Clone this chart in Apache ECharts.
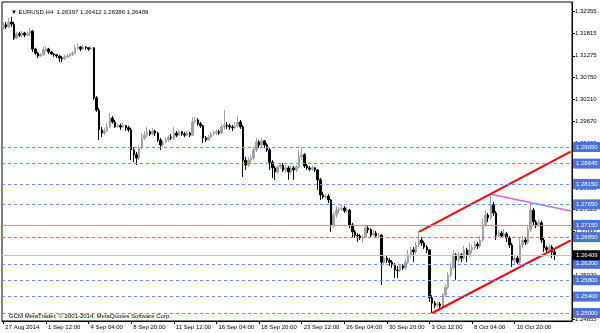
<!DOCTYPE html>
<html><head><meta charset="utf-8">
<script src="https://cdn.jsdelivr.net/npm/echarts@6/dist/echarts.min.js"></script>
<style>html,body{margin:0;padding:0;background:#fff}#c{width:600px;height:333px}</style>
</head><body><div id="c"></div>
<script>
const symbolName = 'EURUSD,H4';
const xTickLabels = ['27 Aug 2014','1 Sep 12:00','4 Sep 04:00','8 Sep 20:00','11 Sep 12:00','16 Sep 04:00','18 Sep 20:00','23 Sep 12:00','26 Sep 04:00','30 Sep 20:00','3 Oct 12:00','8 Oct 04:00','10 Oct 20:00'];
const barsPerLabel = 16;
const slotCount = 214;
// [open, close, low, high]
const ohlc = [
[1.3195,1.3203,1.3191,1.3208],[1.3203,1.3198,1.3193,1.3210],[1.3198,1.3210,1.3195,1.3220],[1.3210,1.3205,1.3198,1.3222],
[1.3205,1.3171,1.3166,1.3210],[1.3171,1.3181,1.3169,1.3186],[1.3181,1.3178,1.3173,1.3186],[1.3178,1.3183,1.3173,1.3188],
[1.3183,1.3178,1.3173,1.3186],[1.3178,1.3181,1.3176,1.3186],[1.3181,1.3188,1.3176,1.3195],[1.3188,1.3144,1.3137,1.3191],
[1.3144,1.3134,1.3130,1.3147],[1.3134,1.3127,1.3122,1.3137],[1.3127,1.3130,1.3125,1.3134],[1.3130,1.3142,1.3127,1.3149],
[1.3142,1.3144,1.3137,1.3151],[1.3144,1.3137,1.3132,1.3147],[1.3137,1.3132,1.3130,1.3139],[1.3132,1.3130,1.3125,1.3134],
[1.3130,1.3127,1.3122,1.3132],[1.3127,1.3122,1.3112,1.3130],[1.3122,1.3120,1.3112,1.3127],[1.3120,1.3125,1.3117,1.3130],
[1.3125,1.3127,1.3122,1.3132],[1.3127,1.3130,1.3125,1.3134],[1.3130,1.3134,1.3127,1.3139],[1.3134,1.3147,1.3132,1.3154],
[1.3147,1.3149,1.3142,1.3159],[1.3149,1.3144,1.3139,1.3151],[1.3144,1.3149,1.3142,1.3154],[1.3149,1.3147,1.3142,1.3151],
[1.3147,1.3144,1.3139,1.3149],[1.3144,1.3147,1.3142,1.3151],[1.3147,1.3025,1.3020,1.3149],[1.3025,1.2995,1.2991,1.3029],
[1.2995,1.2947,1.2922,1.3000],[1.2947,1.2939,1.2929,1.2954],[1.2939,1.2944,1.2934,1.2952],[1.2944,1.2954,1.2942,1.2962],
[1.2954,1.2976,1.2952,1.2988],[1.2976,1.2966,1.2962,1.2981],[1.2966,1.2954,1.2952,1.2971],[1.2954,1.2957,1.2952,1.2962],
[1.2957,1.2954,1.2947,1.2962],[1.2954,1.2957,1.2952,1.2964],[1.2957,1.2952,1.2944,1.2959],[1.2952,1.2947,1.2942,1.2957],
[1.2947,1.2898,1.2873,1.2952],[1.2898,1.2886,1.2868,1.2905],[1.2886,1.2878,1.2861,1.2893],[1.2878,1.2903,1.2873,1.2910],
[1.2903,1.2927,1.2898,1.2939],[1.2927,1.2934,1.2922,1.2944],[1.2934,1.2942,1.2929,1.2954],[1.2942,1.2937,1.2932,1.2947],
[1.2937,1.2944,1.2934,1.2952],[1.2944,1.2939,1.2932,1.2947],[1.2939,1.2922,1.2917,1.2942],[1.2922,1.2910,1.2898,1.2927],
[1.2910,1.2917,1.2905,1.2922],[1.2917,1.2922,1.2915,1.2929],[1.2922,1.2929,1.2917,1.2934],[1.2929,1.2927,1.2922,1.2937],
[1.2927,1.2939,1.2922,1.2954],[1.2939,1.2934,1.2929,1.2944],[1.2934,1.2942,1.2932,1.2947],[1.2942,1.2937,1.2932,1.2944],
[1.2937,1.2934,1.2929,1.2942],[1.2934,1.2939,1.2932,1.2944],[1.2939,1.2934,1.2929,1.2942],[1.2934,1.2966,1.2932,1.2978],
[1.2966,1.2971,1.2962,1.2978],[1.2971,1.2962,1.2957,1.2976],[1.2962,1.2957,1.2952,1.2966],[1.2957,1.2927,1.2915,1.2959],
[1.2927,1.2922,1.2917,1.2932],[1.2922,1.2929,1.2920,1.2934],[1.2929,1.2937,1.2927,1.2942],[1.2937,1.2939,1.2932,1.2944],
[1.2939,1.2942,1.2934,1.2947],[1.2942,1.2939,1.2934,1.2947],[1.2939,1.2954,1.2937,1.2962],[1.2954,1.2959,1.2947,1.2995],
[1.2959,1.2957,1.2949,1.2966],[1.2957,1.2954,1.2947,1.2962],[1.2954,1.2952,1.2944,1.2959],[1.2952,1.2957,1.2949,1.2966],
[1.2957,1.2966,1.2952,1.2981],[1.2966,1.2954,1.2949,1.2971],[1.2954,1.2873,1.2832,1.2959],[1.2873,1.2861,1.2849,1.2881],
[1.2861,1.2873,1.2856,1.2881],[1.2873,1.2878,1.2866,1.2886],[1.2878,1.2898,1.2873,1.2905],[1.2898,1.2917,1.2893,1.2927],
[1.2917,1.2910,1.2903,1.2922],[1.2910,1.2920,1.2905,1.2927],[1.2920,1.2910,1.2903,1.2922],[1.2910,1.2898,1.2893,1.2915],
[1.2898,1.2868,1.2849,1.2903],[1.2868,1.2854,1.2829,1.2873],[1.2854,1.2844,1.2825,1.2859],[1.2844,1.2856,1.2839,1.2861],
[1.2856,1.2861,1.2851,1.2866],[1.2861,1.2849,1.2844,1.2866],[1.2849,1.2854,1.2842,1.2861],[1.2854,1.2844,1.2825,1.2859],
[1.2844,1.2854,1.2837,1.2859],[1.2854,1.2849,1.2825,1.2859],[1.2849,1.2856,1.2844,1.2861],[1.2856,1.2881,1.2854,1.2898],
[1.2881,1.2886,1.2873,1.2903],[1.2886,1.2859,1.2854,1.2890],[1.2859,1.2854,1.2849,1.2864],[1.2854,1.2851,1.2847,1.2859],
[1.2851,1.2854,1.2847,1.2859],[1.2854,1.2849,1.2844,1.2856],[1.2849,1.2825,1.2800,1.2851],[1.2825,1.2788,1.2776,1.2829],
[1.2788,1.2783,1.2778,1.2795],[1.2783,1.2785,1.2778,1.2790],[1.2785,1.2776,1.2768,1.2790],[1.2776,1.2715,1.2698,1.2778],
[1.2715,1.2739,1.2707,1.2747],[1.2739,1.2751,1.2732,1.2761],[1.2751,1.2754,1.2744,1.2759],[1.2754,1.2756,1.2749,1.2764],
[1.2756,1.2749,1.2744,1.2761],[1.2749,1.2751,1.2744,1.2759],[1.2751,1.2715,1.2707,1.2754],[1.2715,1.2698,1.2685,1.2720],
[1.2698,1.2690,1.2683,1.2703],[1.2690,1.2688,1.2673,1.2695],[1.2688,1.2683,1.2678,1.2693],[1.2683,1.2685,1.2671,1.2690],
[1.2685,1.2707,1.2683,1.2715],[1.2707,1.2703,1.2695,1.2712],[1.2703,1.2690,1.2685,1.2707],[1.2690,1.2695,1.2688,1.2703],
[1.2695,1.2688,1.2683,1.2700],[1.2688,1.2690,1.2683,1.2695],[1.2690,1.2624,1.2568,1.2693],[1.2624,1.2634,1.2617,1.2642],
[1.2634,1.2629,1.2622,1.2639],[1.2629,1.2624,1.2615,1.2634],[1.2624,1.2617,1.2610,1.2629],[1.2617,1.2605,1.2585,1.2622],
[1.2605,1.2604,1.2585,1.2615],[1.2604,1.2615,1.2600,1.2619],[1.2615,1.2610,1.2605,1.2619],[1.2610,1.2624,1.2605,1.2632],
[1.2624,1.2642,1.2619,1.2654],[1.2642,1.2654,1.2634,1.2661],[1.2654,1.2649,1.2624,1.2661],[1.2649,1.2666,1.2644,1.2673],
[1.2666,1.2678,1.2661,1.2698],[1.2678,1.2671,1.2664,1.2685],[1.2671,1.2661,1.2656,1.2676],[1.2661,1.2654,1.2646,1.2666],
[1.2654,1.2537,1.2527,1.2656],[1.2537,1.2524,1.2500,1.2544],[1.2524,1.2519,1.2512,1.2529],[1.2519,1.2522,1.2514,1.2527],
[1.2522,1.2517,1.2512,1.2527],[1.2517,1.2544,1.2514,1.2549],[1.2544,1.2563,1.2539,1.2571],[1.2563,1.2593,1.2558,1.2600],
[1.2593,1.2610,1.2588,1.2622],[1.2610,1.2642,1.2605,1.2654],[1.2642,1.2629,1.2581,1.2646],[1.2629,1.2642,1.2624,1.2649],
[1.2642,1.2634,1.2624,1.2646],[1.2634,1.2654,1.2629,1.2664],[1.2654,1.2642,1.2624,1.2659],[1.2642,1.2654,1.2637,1.2671],
[1.2654,1.2659,1.2646,1.2666],[1.2659,1.2668,1.2654,1.2676],[1.2668,1.2664,1.2656,1.2673],[1.2664,1.2678,1.2659,1.2688],
[1.2678,1.2715,1.2673,1.2732],[1.2715,1.2739,1.2710,1.2751],[1.2739,1.2732,1.2722,1.2744],[1.2732,1.2764,1.2727,1.2790],
[1.2764,1.2744,1.2737,1.2771],[1.2744,1.2690,1.2678,1.2749],[1.2690,1.2695,1.2685,1.2703],[1.2695,1.2688,1.2683,1.2700],
[1.2688,1.2693,1.2685,1.2705],[1.2693,1.2683,1.2673,1.2698],[1.2683,1.2666,1.2659,1.2688],[1.2666,1.2629,1.2612,1.2671],
[1.2629,1.2634,1.2617,1.2642],[1.2634,1.2624,1.2619,1.2639],[1.2624,1.2666,1.2619,1.2683],[1.2666,1.2678,1.2659,1.2688],
[1.2678,1.2673,1.2666,1.2685],[1.2673,1.2703,1.2668,1.2715],[1.2703,1.2751,1.2698,1.2768],[1.2751,1.2722,1.2715,1.2756],
[1.2722,1.2715,1.2707,1.2727],[1.2715,1.2720,1.2710,1.2727],[1.2720,1.2678,1.2671,1.2725],[1.2678,1.2659,1.2649,1.2683],
[1.2659,1.2654,1.2646,1.2664],[1.2654,1.2661,1.2649,1.2668],[1.2661,1.2649,1.2634,1.2666],[1.2649,1.2640,1.2629,1.2654],
[1.26397,1.26409,1.26386,1.26412]
];
const yTickValues = [1.32355,1.31815,1.31275,1.30750,1.30210,1.29670,1.29130,1.28590,1.28050,1.27525,1.27000,1.26460,1.25920,1.25380,1.24855];
const dashedLevels = [1.29050,1.28645,1.28150,1.27650,1.26850,1.26200,1.25800,1.25400,1.25000];
const solidLevel = 1.27150;
const bidLevel = 1.26409;
const upperChannel = [[156,1.2698],[213,1.2894]];
const lowerChannel = [[161,1.2500],[213,1.2677]];
const resistanceLine = [[183,1.2790],[213,1.2749]];
const yMin = 1.24805, yMax = 1.32588;

const FONT = '"Liberation Sans",Arial,sans-serif';
const FS = 6;
const cats = Array.from({length: slotCount}, (_, i) => String(i));
const last = ohlc[ohlc.length - 1];
const titleText = '\u25BC ' + symbolName + '  ' + [last[0], last[3], last[2], last[1]].map(v => v.toFixed(5)).join(' ');

const boxLabel = (bg) => ({
  show: true, position: 'end', distance: 1,
  formatter: p => Number(p.value).toFixed(5),
  backgroundColor: bg, color: '#fff', fontSize: FS, fontFamily: FONT,
  padding: [1, 4, 1, 3], lineHeight: 8
});

const levelData = dashedLevels.map(v => ({
  yAxis: v,
  lineStyle: {color: '#6e8ee6', type: [3, 3], width: 1},
  label: boxLabel('#4b72d9')
}));
levelData.push({yAxis: solidLevel, lineStyle: {color: '#86a4ee', type: 'solid', width: 1}, label: boxLabel('#4b72d9')});
levelData.push({yAxis: bidLevel, lineStyle: {color: '#c4c4c4', type: 'solid', width: 1}, label: boxLabel('#000')});

const trend = (data, color, width) => ({
  type: 'line', data: data, symbol: 'none', silent: true, clip: true, z: 5,
  lineStyle: {color: color, width: width}
});

const chart = echarts.init(document.getElementById('c'), null, {renderer: 'canvas'});
chart.setOption({
  animation: false,
  backgroundColor: '#fff',
  title: [
    {text: titleText, left: 6, top: 4, textStyle: {fontSize: FS, fontWeight: 'normal', color: '#000', fontFamily: FONT}},
    {text: 'GCM MetaTrader, \u00A9 2001-2014, MetaQuotes Software Corp.', left: 4, top: 308, textStyle: {fontSize: FS, fontWeight: 'normal', color: '#000', fontFamily: FONT}}
  ],
  grid: {left: 2, right: 28, top: 2, bottom: 12, show: true, borderColor: '#000', borderWidth: 1, backgroundColor: '#fff'},
  xAxis: {
    type: 'category', data: cats, boundaryGap: true,
    axisLine: {show: true, lineStyle: {color: '#000'}},
    axisTick: {show: true, alignWithLabel: true, length: 3, interval: (i) => i % barsPerLabel === 0 && i / barsPerLabel < xTickLabels.length, lineStyle: {color: '#000'}},
    axisLabel: {
      interval: (i) => i % barsPerLabel === 0 && i / barsPerLabel < xTickLabels.length,
      formatter: (v) => xTickLabels[Math.round(Number(v) / barsPerLabel)] || '',
      align: 'left', fontSize: FS, color: '#000', fontFamily: FONT, margin: 3, padding: [0, 0, 0, 2]
    },
    splitLine: {show: false}
  },
  yAxis: {
    type: 'value', position: 'right', min: yMin, max: yMax, scale: true,
    splitLine: {show: false},
    axisLine: {show: true, lineStyle: {color: '#000'}},
    axisTick: {show: true, length: 3, customValues: yTickValues, lineStyle: {color: '#000'}},
    axisLabel: {customValues: yTickValues, formatter: v => v.toFixed(5), fontSize: FS, color: '#000', fontFamily: FONT, margin: 3}
  },
  series: [
    {
      type: 'candlestick', data: ohlc, barWidth: 2, z: 3,
      itemStyle: {color: '#a0a0a0', color0: '#000', borderColor: '#a0a0a0', borderColor0: '#000', borderWidth: 1},
      markLine: {silent: true, precision: 5, symbol: ['none', 'none'], animation: false, data: levelData, z: 6}
    },
    trend(upperChannel, '#ff0000', 2),
    trend(lowerChannel, '#ff0000', 2),
    trend(resistanceLine, '#cc66dd', 1.5)
  ]
});
</script></body></html>
